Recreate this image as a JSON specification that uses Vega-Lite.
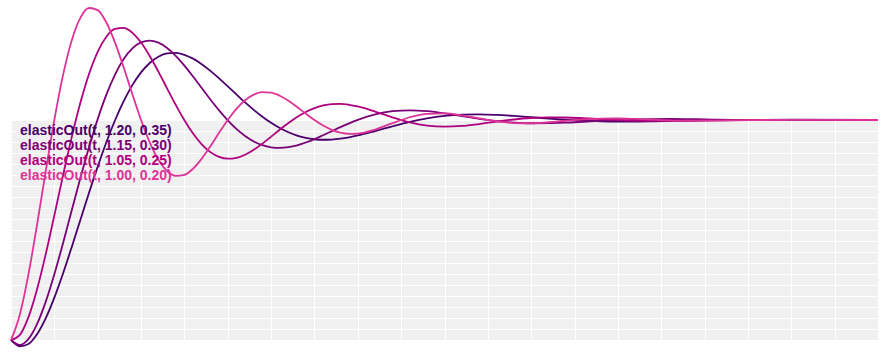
{
  "$schema": "https://vega.github.io/schema/vega-lite/v6.json",
  "width": 867,
  "height": 220,
  "autosize": {"type": "none"},
  "padding": {"left": 11, "top": 120, "right": 10, "bottom": 20},
  "background": "white",
  "config": {
    "view": {"fill": "#f0f0f0", "stroke": null},
    "axis": {"domain": false, "ticks": false, "labels": false, "title": null, "grid": true, "gridColor": "#ffffff", "gridOpacity": 1, "gridWidth": 1}
  },
  "datasets": {
    "names": [
      {"key": "D", "name": "elasticOut(t, 1.20, 0.35)"},
      {"key": "C", "name": "elasticOut(t, 1.15, 0.30)"},
      {"key": "B", "name": "elasticOut(t, 1.05, 0.25)"},
      {"key": "A", "name": "elasticOut(t, 1.00, 0.20)"}
    ]
  },
  "data": {"values": [
    {"t": 0, "A": 0, "B": 0, "C": 0, "D": 0},
    {"t": 0.01, "A": 0.1127, "B": 0.0220, "C": -0.0228, "D": -0.0285},
    {"t": 0.02, "A": 0.2957, "B": 0.1029, "C": 0.0037, "D": -0.0179},
    {"t": 0.03, "A": 0.5227, "B": 0.2300, "C": 0.0719, "D": 0.0266},
    {"t": 0.04, "A": 0.7659, "B": 0.3893, "C": 0.1733, "D": 0.0988},
    {"t": 0.05, "A": 1.0, "B": 0.5664, "C": 0.2990, "D": 0.1928},
    {"t": 0.06, "A": 1.2038, "B": 0.7479, "C": 0.4401, "D": 0.3023},
    {"t": 0.07, "A": 1.3616, "B": 0.9218, "C": 0.5883, "D": 0.4218},
    {"t": 0.08, "A": 1.4643, "B": 1.0781, "C": 0.7359, "D": 0.5457},
    {"t": 0.09, "A": 1.5092, "B": 1.2092, "C": 0.8763, "D": 0.6692},
    {"t": 0.10, "A": 1.4995, "B": 1.3101, "C": 1.0041, "D": 0.7881},
    {"t": 0.11, "A": 1.4432, "B": 1.3784, "C": 1.1152, "D": 0.8989},
    {"t": 0.12, "A": 1.3517, "B": 1.4138, "C": 1.2066, "D": 0.9988},
    {"t": 0.13, "A": 1.2384, "B": 1.4186, "C": 1.2768, "D": 1.0858},
    {"t": 0.14, "A": 1.1169, "B": 1.3963, "C": 1.3254, "D": 1.1585},
    {"t": 0.15, "A": 1.0, "B": 1.3519, "C": 1.3529, "D": 1.2164},
    {"t": 0.16, "A": 0.8983, "B": 1.2910, "C": 1.3609, "D": 1.2592},
    {"t": 0.17, "A": 0.8195, "B": 1.2197, "C": 1.3515, "D": 1.2876},
    {"t": 0.18, "A": 0.7682, "B": 1.1438, "C": 1.3274, "D": 1.3024},
    {"t": 0.19, "A": 0.7459, "B": 1.0686, "C": 1.2916, "D": 1.3047},
    {"t": 0.20, "A": 0.7507, "B": 0.9989, "C": 1.2473, "D": 1.2964},
    {"t": 0.21, "A": 0.7789, "B": 0.9383, "C": 1.1974, "D": 1.2788},
    {"t": 0.22, "A": 0.8245, "B": 0.8894, "C": 1.1452, "D": 1.2539},
    {"t": 0.23, "A": 0.8811, "B": 0.8539, "C": 1.0931, "D": 1.2234},
    {"t": 0.24, "A": 0.9417, "B": 0.8322, "C": 1.0436, "D": 1.1893},
    {"t": 0.25, "A": 1.0, "B": 0.8240, "C": 0.9986, "D": 1.1530},
    {"t": 0.26, "A": 1.0507, "B": 0.8280, "C": 0.9594, "D": 1.1161},
    {"t": 0.27, "A": 1.0899, "B": 0.8423, "C": 0.9273, "D": 1.0800},
    {"t": 0.28, "A": 1.1154, "B": 0.8647, "C": 0.9026, "D": 1.0459},
    {"t": 0.29, "A": 1.1266, "B": 0.8927, "C": 0.8855, "D": 1.0147},
    {"t": 0.30, "A": 1.1241, "B": 0.9239, "C": 0.8759, "D": 0.9870},
    {"t": 0.31, "A": 1.1100, "B": 0.9558, "C": 0.8732, "D": 0.9634},
    {"t": 0.32, "A": 1.0873, "B": 0.9863, "C": 0.8765, "D": 0.9441},
    {"t": 0.33, "A": 1.0591, "B": 1.0137, "C": 0.8850, "D": 0.9293},
    {"t": 0.34, "A": 1.0290, "B": 1.0367, "C": 0.8977, "D": 0.9188},
    {"t": 0.35, "A": 1.0, "B": 1.0543, "C": 0.9132, "D": 0.9125},
    {"t": 0.36, "A": 0.9748, "B": 1.0662, "C": 0.9308, "D": 0.9102},
    {"t": 0.37, "A": 0.9553, "B": 1.0724, "C": 0.9491, "D": 0.9111},
    {"t": 0.38, "A": 0.9426, "B": 1.0732, "C": 0.9674, "D": 0.9150},
    {"t": 0.39, "A": 0.9372, "B": 1.0691, "C": 0.9848, "D": 0.9215},
    {"t": 0.40, "A": 0.9384, "B": 1.0614, "C": 1.0005, "D": 0.9296},
    {"t": 0.42, "A": 0.9567, "B": 1.0383, "C": 1.0254, "D": 0.9497},
    {"t": 0.44, "A": 0.9857, "B": 1.0119, "C": 1.0399, "D": 0.9713},
    {"t": 0.46, "A": 1.0125, "B": 0.9893, "C": 1.0442, "D": 0.9913},
    {"t": 0.48, "A": 1.0282, "B": 0.9748, "C": 1.0399, "D": 1.0074},
    {"t": 0.50, "A": 1.0303, "B": 0.9697, "C": 1.0301, "D": 1.0186},
    {"t": 0.52, "A": 1.0212, "B": 0.9730, "C": 1.0175, "D": 1.0245},
    {"t": 0.54, "A": 1.0070, "B": 0.9817, "C": 1.0052, "D": 1.0259},
    {"t": 0.56, "A": 0.9939, "B": 0.9925, "C": 0.9952, "D": 1.0235},
    {"t": 0.58, "A": 0.9862, "B": 1.0023, "C": 0.9884, "D": 1.0188},
    {"t": 0.60, "A": 0.9853, "B": 1.0091, "C": 0.9853, "D": 1.0128},
    {"t": 0.62, "A": 0.9898, "B": 1.0120, "C": 0.9856, "D": 1.0066},
    {"t": 0.64, "A": 0.9966, "B": 1.0114, "C": 0.9881, "D": 1.0012},
    {"t": 0.66, "A": 1.0029, "B": 1.0082, "C": 0.9921, "D": 0.9971},
    {"t": 0.68, "A": 1.0065, "B": 1.0040, "C": 0.9963, "D": 0.9944},
    {"t": 0.70, "A": 1.0068, "B": 1.0000, "C": 1.0001, "D": 0.9932},
    {"t": 0.72, "A": 1.0047, "B": 0.9970, "C": 1.0028, "D": 0.9932},
    {"t": 0.74, "A": 1.0015, "B": 0.9956, "C": 1.0043, "D": 0.9941},
    {"t": 0.76, "A": 0.9987, "B": 0.9956, "C": 1.0046, "D": 0.9956},
    {"t": 0.78, "A": 0.9972, "B": 0.9967, "C": 1.0040, "D": 0.9972},
    {"t": 0.80, "A": 0.9971, "B": 0.9982, "C": 1.0029, "D": 0.9988},
    {"t": 0.90, "A": 1.0010, "B": 1.0010, "C": 0.9990, "D": 1.0012},
    {"t": 1.00, "A": 1, "B": 1, "C": 1, "D": 1}
  ]},
  "transform": [
    {"fold": ["D", "C", "B", "A"], "as": ["key", "value"]},
    {"lookup": "key", "from": {"data": {"name": "names"}, "key": "key", "fields": ["name"]}}
  ],
  "mark": {"type": "line", "strokeWidth": 1.8, "interpolate": "monotone", "clip": false},
  "encoding": {
    "x": {"field": "t", "type": "quantitative", "scale": {"domain": [0, 1], "nice": false, "zero": false},
      "axis": {"values": [0, 0.05, 0.1, 0.15, 0.2, 0.25, 0.3, 0.35, 0.4, 0.45, 0.5, 0.55, 0.6, 0.65, 0.7, 0.75, 0.8, 0.85, 0.9, 0.95, 1]}},
    "y": {"field": "value", "type": "quantitative", "scale": {"domain": [0, 1], "nice": false, "zero": false},
      "axis": {"values": [0, 0.05, 0.1, 0.15, 0.2, 0.25, 0.3, 0.35, 0.4, 0.45, 0.5, 0.55, 0.6, 0.65, 0.7, 0.75, 0.8, 0.85, 0.9, 0.95, 1]}},
    "color": {"field": "name", "type": "nominal",
      "scale": {"domain": ["elasticOut(t, 1.20, 0.35)", "elasticOut(t, 1.15, 0.30)", "elasticOut(t, 1.05, 0.25)", "elasticOut(t, 1.00, 0.20)"],
                "range": ["#49006a", "#7a0177", "#ae017e", "#dd3497"]},
      "legend": {"orient": "none", "legendX": -5, "legendY": 5, "title": null, "padding": 0,
        "symbolSize": 0, "symbolOpacity": 0, "symbolStrokeWidth": 0, "labelOffset": 0,
        "labelFont": "Liberation Sans", "labelFontSize": 14, "labelFontWeight": "bold",
        "labelLimit": 400, "rowPadding": 0, "clipHeight": 12.9,
        "labelColor": {"expr": "scale('color', datum.value)"}}}
  }
}
